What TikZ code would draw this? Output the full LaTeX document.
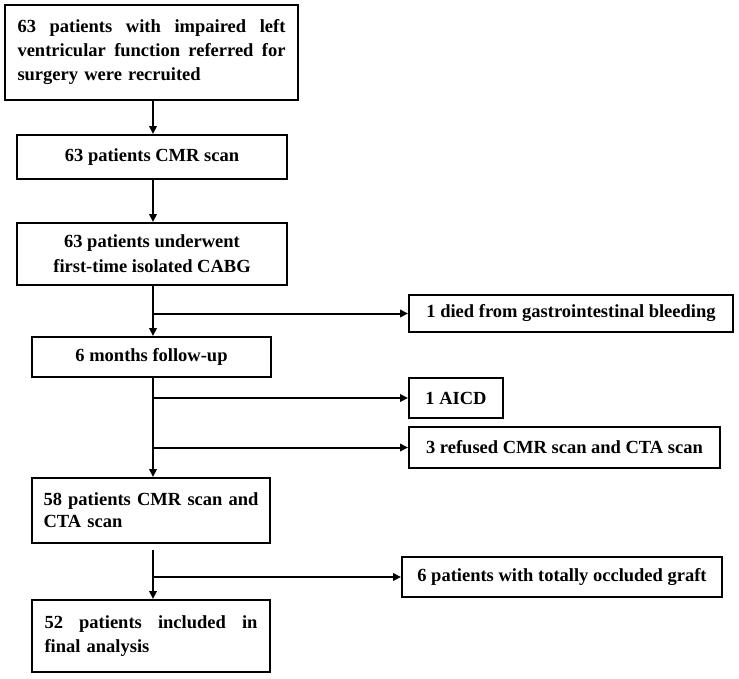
\documentclass[tikz,border=0pt]{standalone}
\usepackage{fontspec}
\setmainfont{Liberation Serif}
\usetikzlibrary{arrows.meta}
\newcommand{\jline}[2]{\makebox[#1]{#2}}
\tikzset{
  box/.style={draw, line width=2pt, inner sep=0pt, align=center,
    font=\bfseries\fontsize{18.5}{24}\selectfont},
  arr/.style={line width=2pt, -{Triangle[length=8pt,width=7.5pt]}}
}
\begin{document}
\begin{tikzpicture}[x=1pt,y=-1pt]
\useasboundingbox (0,0) rectangle (739,678);
\coordinate (t) at (153,0);
\node[box, minimum width=293pt, minimum height=95pt, text width=268pt, align=left] (b1) at (151.5,52.5)
  {\jline{268pt}{63\hfill patients\hfill with\hfill impaired\hfill left}\\
   \jline{268pt}{ventricular\hfill function\hfill referred\hfill for}\\
   surgery were recruited};
\node[box, minimum width=270pt, minimum height=44pt] (b2) at (152,157) {63 patients CMR scan};
\node[box, minimum width=270pt, minimum height=62pt, font=\bfseries\fontsize{18.5}{25}\selectfont] (b3) at (152,254)
  {63 patients underwent\\first-time isolated CABG};
\node[box, minimum width=324pt, minimum height=37pt] (died) at (571,313.5) {1 died from gastrointestinal bleeding};
\node[box, minimum width=239pt, minimum height=40pt] (b4) at (151.5,357) {6 months follow-up};
\node[box, minimum width=94pt, minimum height=40pt] (aicd) at (456,398) {1 AICD};
\node[box, minimum width=311pt, minimum height=41pt] (ref) at (564.5,447.5) {3 refused CMR scan and CTA scan};
\node[box, minimum width=238pt, minimum height=65pt, text width=215pt, align=left,
  font=\bfseries\fontsize{18.5}{22}\selectfont] (b5) at (151,510.5)
  {\jline{215pt}{58\hfill patients\hfill CMR\hfill scan\hfill and}\\CTA scan};
\node[box, minimum width=320pt, minimum height=40pt] (occ) at (562,577) {6 patients with totally occluded graft};
\node[box, minimum width=238pt, minimum height=72pt, text width=213pt, align=left] (b52) at (151,636)
  {\jline{213pt}{52\hfill patients\hfill included\hfill in}\\final analysis};
\draw[arr] (b1.south -| t) -- (b2.north -| t);
\draw[arr] (b2.south -| t) -- (b3.north -| t);
\draw[arr] (b3.south -| t) -- (b4.north -| t);
\draw[arr] (t |- died.west) -- (died.west);
\draw[arr] (b4.south -| t) -- (b5.north -| t);
\draw[arr] (t |- aicd.west) -- (aicd.west);
\draw[arr] (t |- ref.west) -- (ref.west);
\draw[arr] ([yshift=-6pt]b5.south -| t) -- (b52.north -| t);
\draw[arr] (t |- occ.west) -- (occ.west);
\end{tikzpicture}
\end{document}
